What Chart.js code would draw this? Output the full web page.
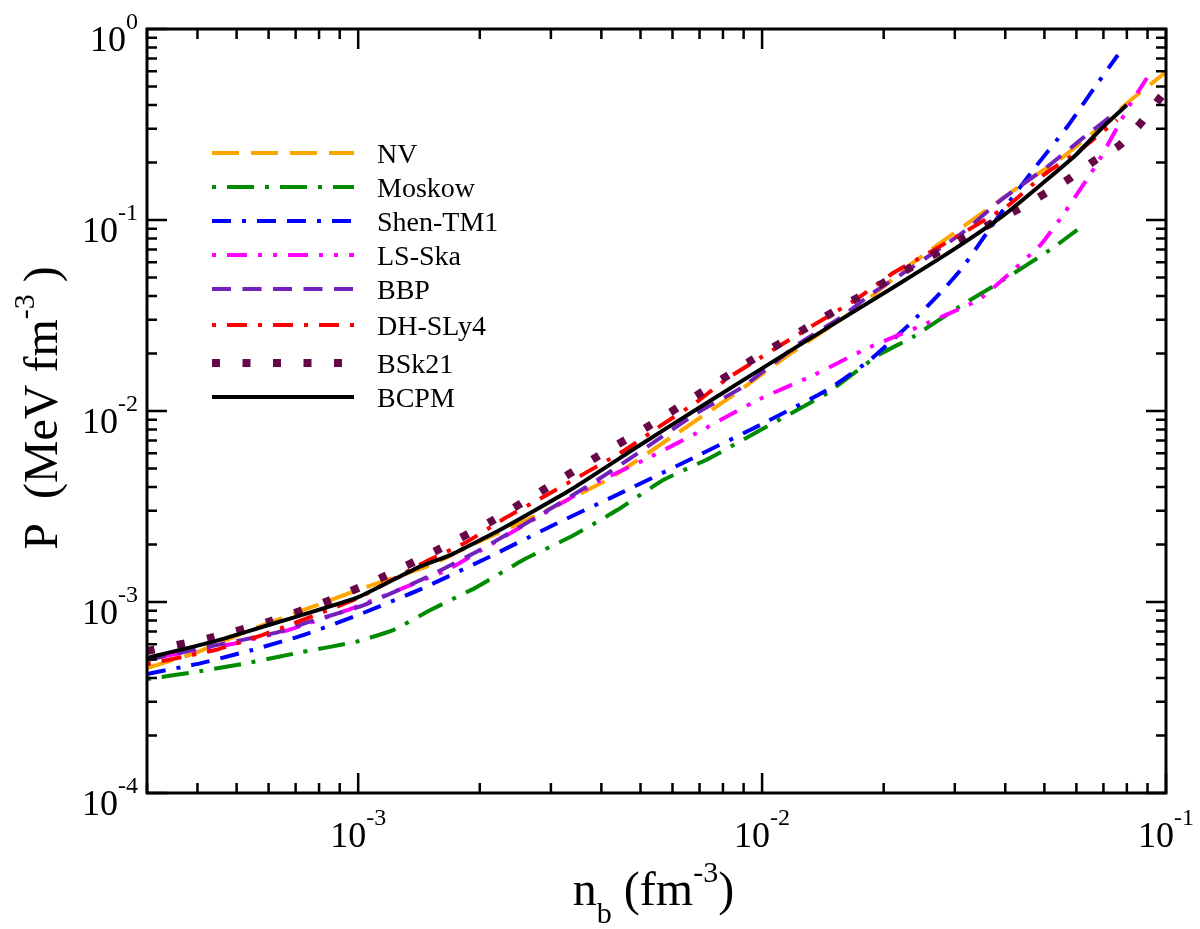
<!DOCTYPE html>
<html>
<head>
<meta charset="utf-8">
<script src="https://cdn.jsdelivr.net/npm/chart.js@4.4.1/dist/chart.umd.min.js"></script>
<style>
  html, body { margin: 0; padding: 0; background: #fff; }
</style>
</head>
<body>
<canvas id="eos" width="1200" height="929"></canvas>
<script>
// n_b (fm^-3) and P (MeV fm^-3)
const nvN = [3.0e-4, 3.95e-4, 5.56e-4, 6.79e-4, 8.29e-4, 1.05e-3, 1.51e-3, 1.93e-3, 2.74e-3, 4.21e-3, 5.92e-3, 8.48e-3, 1.16e-2, 1.72e-2, 2.36e-2, 4.53e-2, 5.56e-2, 6.87e-2, 8.18e-2, 0.1];
const nvP = [4.51e-4, 5.41e-4, 7.31e-4, 8.55e-4, 1.0e-3, 1.2e-3, 1.56e-3, 2.01e-3, 2.82e-3, 4.46e-3, 7.22e-3, 1.21e-2, 1.96e-2, 3.46e-2, 5.96e-2, 0.160, 0.214, 0.307, 0.425, 0.595];

const moskowN = [3.0e-4, 3.95e-4, 5.34e-4, 7.26e-4, 9.84e-4, 1.22e-3, 1.51e-3, 1.97e-3, 2.56e-3, 3.35e-3, 4.38e-3, 5.69e-3, 7.43e-3, 9.61e-3, 1.26e-2, 1.45e-2, 1.94e-2, 2.36e-2, 3.04e-2, 3.88e-2, 5.16e-2, 6.03e-2];
const moskowP = [3.95e-4, 4.30e-4, 4.80e-4, 5.47e-4, 6.18e-4, 7.13e-4, 9.08e-4, 1.2e-3, 1.66e-3, 2.19e-3, 3.03e-3, 4.35e-3, 5.68e-3, 7.67e-3, 1.05e-2, 1.24e-2, 1.96e-2, 2.44e-2, 3.46e-2, 4.73e-2, 6.97e-2, 8.87e-2];

const shenN = [3.0e-4, 4.11e-4, 5.47e-4, 7.31e-4, 1.0e-3, 1.42e-3, 2.06e-3, 3.08e-3, 4.53e-3, 6.75e-3, 9.89e-3, 1.46e-2, 1.85e-2, 2.32e-2, 2.79e-2, 3.13e-2, 3.88e-2, 4.69e-2, 5.69e-2, 6.75e-2, 7.6e-2];
const shenP = [4.2e-4, 4.8e-4, 5.61e-4, 6.71e-4, 8.55e-4, 1.16e-3, 1.68e-3, 2.56e-3, 3.77e-3, 5.68e-3, 8.45e-3, 1.30e-2, 1.85e-2, 2.85e-2, 4.25e-2, 5.61e-2, 0.107, 0.183, 0.307, 0.515, 0.731];

const lsN = [3.0e-4, 4.88e-4, 6.71e-4, 9.55e-4, 1.66e-3, 2.0e-3, 2.87e-3, 3.97e-3, 5.28e-3, 7.03e-3, 9.73e-3, 1.34e-2, 1.83e-2, 2.50e-2, 3.43e-2, 3.88e-2, 4.91e-2, 5.62e-2, 6.79e-2, 8.05e-2, 8.97e-2];
const lsP = [5.03e-4, 6.03e-4, 7.13e-4, 9.19e-4, 1.47e-3, 1.85e-3, 2.89e-3, 4.30e-3, 5.74e-3, 7.85e-3, 1.14e-2, 1.54e-2, 2.14e-2, 2.82e-2, 3.81e-2, 4.73e-2, 7.48e-2, 0.110, 0.201, 0.386, 0.554];

const bbpN = [3.0e-4, 4.23e-4, 6.24e-4, 7.69e-4, 1.02e-3, 1.48e-3, 2.0e-3, 2.87e-3, 3.91e-3, 5.19e-3, 6.9e-3, 8.97e-3, 1.24e-2, 1.56e-2, 1.88e-2, 2.36e-2, 3.15e-2, 3.88e-2, 5.07e-2, 6.23e-2, 7.26e-2];
const bbpP = [4.97e-4, 5.81e-4, 6.89e-4, 7.96e-4, 9.53e-4, 1.35e-3, 1.87e-3, 2.92e-3, 4.35e-3, 6.48e-3, 9.77e-3, 1.34e-2, 2.27e-2, 3.07e-2, 4.15e-2, 5.68e-2, 8.65e-2, 0.126, 0.189, 0.269, 0.346];

const dhN = [3.0e-4, 4.43e-4, 5.71e-4, 7.18e-4, 1.0e-3, 1.48e-3, 1.84e-3, 2.31e-3, 2.90e-3, 4.58e-3, 5.6e-3, 6.95e-3, 8.24e-3, 1.33e-2, 1.70e-2, 2.11e-2, 2.61e-2, 4.04e-2, 5.01e-2, 6.12e-2, 7.57e-2];
const dhP = [4.73e-4, 5.61e-4, 6.64e-4, 7.96e-4, 1.05e-3, 1.64e-3, 2.04e-3, 2.75e-3, 3.59e-3, 6.25e-3, 8.35e-3, 1.13e-2, 1.49e-2, 2.79e-2, 3.81e-2, 5.28e-2, 6.8e-2, 0.118, 0.174, 0.232, 0.334];

const bsk21N = [3.0e-4, 4.30e-4, 5.98e-4, 8.29e-4, 1.15e-3, 1.57e-3, 2.12e-3, 2.87e-3, 3.86e-3, 5.19e-3, 7.03e-3, 9.44e-3, 1.26e-2, 1.72e-2, 2.32e-2, 3.15e-2, 4.28e-2, 5.75e-2, 6.64e-2, 7.69e-2, 8.67e-2, 9.62e-2, 0.1];
const bsk21P = [5.54e-4, 6.48e-4, 7.85e-4, 1.0e-3, 1.35e-3, 1.87e-3, 2.62e-3, 3.86e-3, 5.68e-3, 8.24e-3, 1.24e-2, 1.85e-2, 2.65e-2, 3.91e-2, 5.61e-2, 8.05e-2, 0.113, 0.164, 0.204, 0.247, 0.322, 0.430, 0.479];

const bcpmN = [3.0e-4, 4.35e-4, 5.78e-4, 6.98e-4, 1.0e-3, 1.40e-3, 1.69e-3, 2.24e-3, 3.35e-3, 4.99e-3, 7.03e-3, 1.24e-2, 2.20e-2, 2.97e-2, 3.99e-2, 4.99e-2, 5.98e-2, 6.98e-2, 8.0e-2];
const bcpmP = [5.09e-4, 6.18e-4, 7.40e-4, 8.34e-4, 1.06e-3, 1.51e-3, 1.76e-3, 2.38e-3, 3.86e-3, 6.64e-3, 1.05e-2, 2.22e-2, 4.68e-2, 6.97e-2, 0.107, 0.158, 0.219, 0.307, 0.400];

// axis ranges and tick decades
const xMin = 3e-4, xMax = 0.1;
const yMin = 1e-4, yMax = 1;
const xDecades = [-4, -3, -2, -1];
const yDecades = [-4, -3, -2, -1, 0];
const xLabelExp = [-3, -2, -1];
const yLabelExp = [-4, -3, -2, -1, 0];

const FONT = '"Liberation Serif", "Times New Roman", Times, serif';

const series = [
  { label: 'NV', n: nvN, p: nvP, color: '#ffa500', width: 4, dash: [27, 12] },
  { label: 'Moskow', n: moskowN, p: moskowP, color: '#008b00', width: 4, dash: [4, 11, 27, 11] },
  { label: 'Shen-TM1', n: shenN, p: shenP, color: '#0000ff', width: 4, dash: [19, 11, 4, 11, 19, 11] },
  { label: 'LS-Ska', n: lsN, p: lsP, color: '#ff00ff', width: 4, dash: [4, 11, 20, 11, 4, 11] },
  { label: 'BBP', n: bbpN, p: bbpP, color: '#7221bc', width: 4, dash: [19, 11.5] },
  { label: 'DH-SLy4', n: dhN, p: dhP, color: '#ff0000', width: 4, dash: [4, 11, 20, 11] },
  { label: 'BSk21', n: bsk21N, p: bsk21P, color: '#670748', width: 8, dash: [8, 22.5] },
  { label: 'BCPM', n: bcpmN, p: bcpmP, color: '#000000', width: 4, dash: [] },
];
const legendRowY = [153, 187, 221, 255, 289, 325, 363, 397];

const datasets = series.map((s, i) => ({
  label: s.label,
  data: s.n.map((n, j) => ({ x: n, y: s.p[j] })),
  borderColor: s.color,
  borderWidth: s.width,
  borderDash: s.dash,
  borderCapStyle: 'butt',
  fill: false,
  order: series.length - 1 - i,
}));

// text with super/subscripts: parts = [text, size, rise]
function drawRich(ctx, parts, x, y, align) {
  let w = 0;
  parts.forEach(([t, s]) => { ctx.font = `${s}px ${FONT}`; w += ctx.measureText(t).width; });
  let cx = align === 'center' ? x - w / 2 : align === 'right' ? x - w : x;
  ctx.textAlign = 'left';
  ctx.textBaseline = 'alphabetic';
  parts.forEach(([t, s, rise]) => {
    ctx.font = `${s}px ${FONT}`;
    ctx.fillText(t, cx, y - rise);
    cx += ctx.measureText(t).width;
  });
}

const framePlugin = {
  id: 'frame',
  afterDraw(chart) {
    const { ctx, chartArea: a, scales: { x, y } } = chart;
    ctx.save();
    ctx.strokeStyle = '#000';
    ctx.fillStyle = '#000';
    ctx.lineWidth = 3;
    ctx.setLineDash([]);
    ctx.strokeRect(a.left, a.top, a.right - a.left, a.bottom - a.top);

    // ticks on all four sides, pointing inwards
    ctx.lineWidth = 2.5;
    ctx.beginPath();
    xDecades.forEach(k => {
      for (let m = 1; m <= 9; m++) {
        const v = m * Math.pow(10, k);
        if (v < xMin * 0.999 || v > xMax * 1.001) continue;
        const px = x.getPixelForValue(v);
        const len = m === 1 ? 20 : 10;
        ctx.moveTo(px, a.bottom); ctx.lineTo(px, a.bottom - len);
        ctx.moveTo(px, a.top); ctx.lineTo(px, a.top + len);
      }
    });
    yDecades.forEach(k => {
      for (let m = 1; m <= 9; m++) {
        const v = m * Math.pow(10, k);
        if (v < yMin * 0.999 || v > yMax * 1.001) continue;
        const py = y.getPixelForValue(v);
        const len = m === 1 ? 20 : 10;
        ctx.moveTo(a.left, py); ctx.lineTo(a.left + len, py);
        ctx.moveTo(a.right, py); ctx.lineTo(a.right - len, py);
      }
    });
    ctx.stroke();

    // tick labels
    xLabelExp.forEach(k => {
      const px = x.getPixelForValue(Math.pow(10, k));
      drawRich(ctx, [['10', 36, 0], [String(k), 24, 22]], px, a.bottom + 54, 'center');
    });
    yLabelExp.forEach(k => {
      const py = y.getPixelForValue(Math.pow(10, k));
      drawRich(ctx, [['10', 36, 0], [String(k), 24, 22]], a.left - 9, py + 22, 'right');
    });

    // axis titles
    drawRich(ctx, [['n', 48, 0], ['b', 30, -18], [' (fm', 48, 0], ['-3', 30, 23], [')', 48, 0]],
      (a.left + a.right) / 2 - 3, a.bottom + 112, 'center');
    ctx.save();
    ctx.translate(57, 408);
    ctx.rotate(-Math.PI / 2);
    drawRich(ctx, [['P  (MeV fm', 48, 0], ['-3', 30, 23], [' )', 48, 0]], 0, 0, 'center');
    ctx.restore();

    // legend
    chart.data.datasets.forEach((ds, i) => {
      const ly = legendRowY[i];
      ctx.strokeStyle = ds.borderColor;
      ctx.lineWidth = ds.borderWidth;
      ctx.lineCap = 'butt';
      ctx.setLineDash(ds.borderDash);
      ctx.lineDashOffset = 0;
      ctx.beginPath();
      ctx.moveTo(212, ly);
      ctx.lineTo(354, ly);
      ctx.stroke();
      ctx.setLineDash([]);
      ctx.fillStyle = '#000';
      drawRich(ctx, [[ds.label, 28, 0]], 377, ly + 10, 'left');
    });
    ctx.restore();
  },
};

new Chart(document.getElementById('eos'), {
  type: 'line',
  data: { datasets },
  options: {
    responsive: false,
    animation: false,
    layout: { padding: { left: 147, top: 29, right: 34, bottom: 136 } },
    plugins: {
      legend: { display: false },
      tooltip: { enabled: false },
    },
    elements: {
      point: { radius: 0 },
      line: { tension: 0.15 },
    },
    scales: {
      x: { type: 'logarithmic', min: xMin, max: xMax, display: false },
      y: { type: 'logarithmic', min: yMin, max: yMax, display: false },
    },
  },
  plugins: [framePlugin],
});
</script>
</body>
</html>
